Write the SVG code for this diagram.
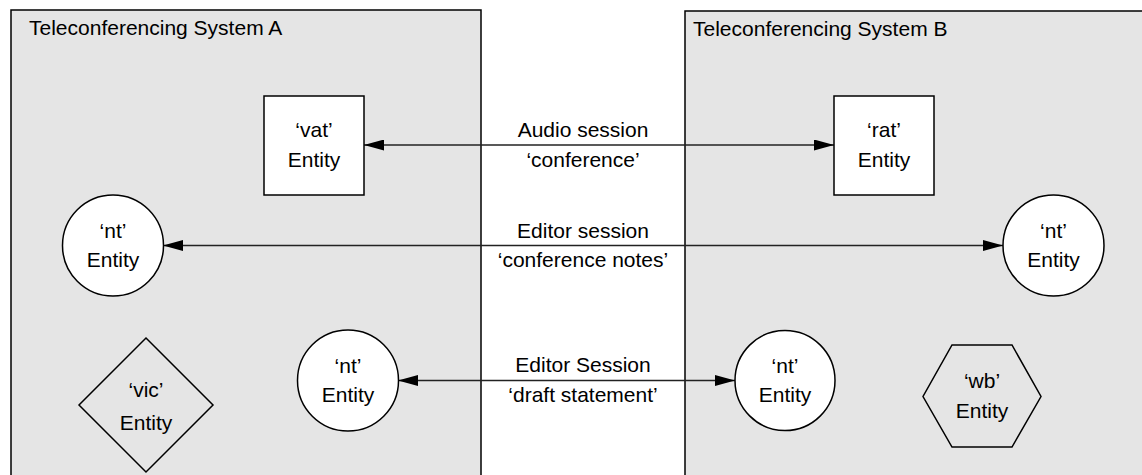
<svg xmlns="http://www.w3.org/2000/svg" width="1142" height="475" viewBox="0 0 1142 475">
  <style>
    text { font-family: "Liberation Sans", Arial, Helvetica, sans-serif; font-size: 21px; fill: #000; }
    .mid { text-anchor: middle; }
    .system { fill: #e5e5e5; stroke: #000; stroke-width: 1.5; }
    .entity { fill: #fff; stroke: #000; stroke-width: 1.5; }
    .entity-gray { fill: #e5e5e5; stroke: #000; stroke-width: 1.5; }
    .link { fill: none; stroke: #222; stroke-width: 1.4; marker-start: url(#arrowStart); marker-end: url(#arrowEnd); }
  </style>
  <defs>
    <marker id="arrowEnd" viewBox="0 0 20 11" refX="20" refY="5.5" markerWidth="20" markerHeight="11" markerUnits="userSpaceOnUse" orient="auto">
      <path d="M0,0 L20,5.5 L0,11 Z" fill="#000"/>
    </marker>
    <marker id="arrowStart" viewBox="0 0 20 11" refX="0" refY="5.5" markerWidth="20" markerHeight="11" markerUnits="userSpaceOnUse" orient="auto">
      <path d="M20,0 L0,5.5 L20,11 Z" fill="#000"/>
    </marker>
  </defs>

  <rect width="1142" height="475" fill="#fff"/>

  <!-- System containers -->
  <g id="system-a">
    <rect class="system" x="11" y="10" width="470" height="480"/>
    <text x="29" y="35">Teleconferencing System A</text>
  </g>
  <g id="system-b">
    <rect class="system" x="685" y="11" width="470" height="480"/>
    <text x="693" y="36">Teleconferencing System B</text>
  </g>

  <!-- Sessions between the two systems -->
  <g id="connectors">
    <line class="link" x1="364" y1="145" x2="834" y2="145"/>
    <line class="link" x1="163" y1="245.5" x2="1003" y2="245.5"/>
    <line class="link" x1="398" y1="380.5" x2="735" y2="380.5"/>
    <text class="mid" x="583" y="137">Audio session</text>
    <text class="mid" x="583" y="167">‘conference’</text>
    <text class="mid" x="583" y="238">Editor session</text>
    <text class="mid" x="583" y="267">‘conference notes’</text>
    <text class="mid" x="583" y="372">Editor Session</text>
    <text class="mid" x="583" y="402">‘draft statement’</text>
  </g>

  <!-- Entities in system A -->
  <g id="vat-entity">
    <rect class="entity" x="264" y="96" width="100" height="99"/>
    <text class="mid" x="314" y="137">‘vat’</text>
    <text class="mid" x="314" y="167">Entity</text>
  </g>
  <g id="nt-entity-a1">
    <circle class="entity" cx="113" cy="245.5" r="50.5"/>
    <text class="mid" x="113" y="238">‘nt’</text>
    <text class="mid" x="113" y="267">Entity</text>
  </g>
  <g id="nt-entity-a2">
    <circle class="entity" cx="348" cy="380.5" r="50.5"/>
    <text class="mid" x="348" y="373">‘nt’</text>
    <text class="mid" x="348" y="402">Entity</text>
  </g>
  <g id="vic-entity">
    <polygon class="entity-gray" points="146,338 213,405 146,472 79,405"/>
    <text class="mid" x="146" y="397">‘vic’</text>
    <text class="mid" x="146" y="430">Entity</text>
  </g>

  <!-- Entities in system B -->
  <g id="rat-entity">
    <rect class="entity" x="834" y="96" width="100" height="99"/>
    <text class="mid" x="884" y="137">‘rat’</text>
    <text class="mid" x="884" y="167">Entity</text>
  </g>
  <g id="nt-entity-b1">
    <circle class="entity" cx="1053.5" cy="245.5" r="50.5"/>
    <text class="mid" x="1053.5" y="238">‘nt’</text>
    <text class="mid" x="1053.5" y="267">Entity</text>
  </g>
  <g id="nt-entity-b2">
    <circle class="entity" cx="785" cy="380.5" r="50"/>
    <text class="mid" x="785" y="373">‘nt’</text>
    <text class="mid" x="785" y="402">Entity</text>
  </g>
  <g id="wb-entity">
    <polygon class="entity-gray" points="952,345 1012,345 1041,396.5 1012,447 952,447 923,396.5"/>
    <text class="mid" x="982" y="388">‘wb’</text>
    <text class="mid" x="982" y="418">Entity</text>
  </g>
</svg>
